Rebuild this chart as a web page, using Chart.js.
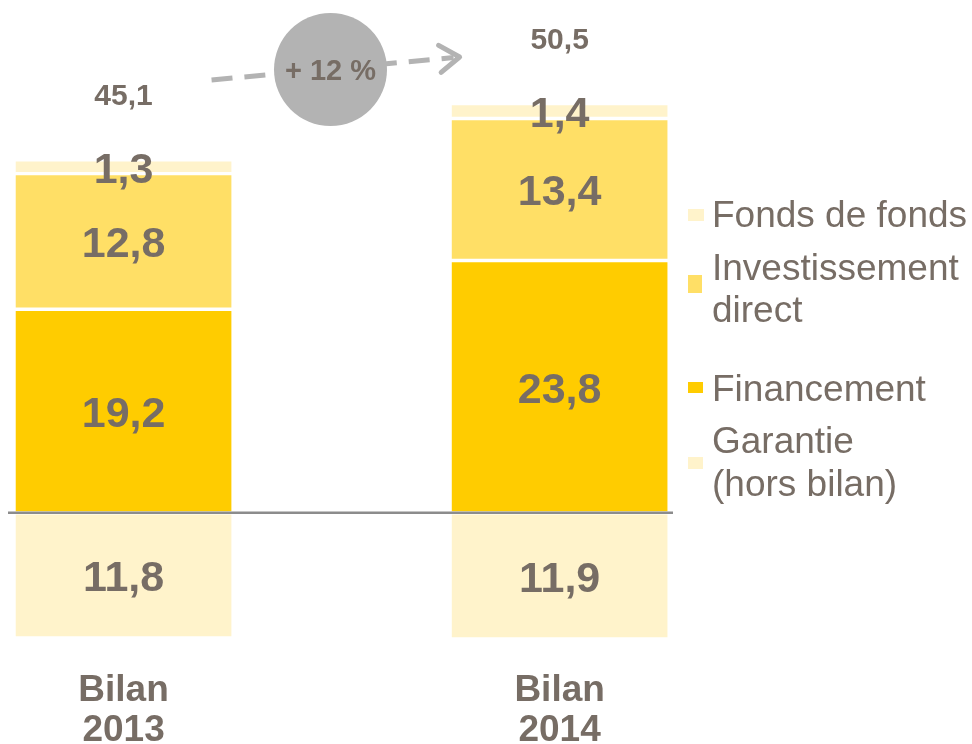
<!DOCTYPE html>
<html>
<head>
<meta charset="utf-8">
<script src="https://cdn.jsdelivr.net/npm/chart.js@4.4.1/dist/chart.umd.min.js"></script>
<style>
  html, body { margin: 0; padding: 0; background: #fff; }
</style>
</head>
<body>
<div id="grafico"><canvas id="miGrafico" width="972" height="744"></canvas></div>
<script>
// Données (Md€)
const categorias = ['Bilan 2013', 'Bilan 2014'];
const financement = [19.2, 23.8];
const investissementDirect = [12.8, 13.4];
const fondsDeFonds = [1.3, 1.4];
const garantie = [11.8, 11.9]; // hors bilan -> dessiné sous l'axe

const TEXTE = '#776D65';
const POLICE = '"Liberation Sans", Arial, sans-serif';

const fmt = v => v.toFixed(1).replace('.', ',');
const totaux = categorias.map((c, i) => financement[i] + investissementDirect[i] + fondsDeFonds[i] + garantie[i]);

const serie = (label, valores, color, signe) => ({
  label: label,
  data: valores.map((v, i) => ({ x: i, y: signe * v })),
  backgroundColor: color,
  borderColor: '#ffffff',
  borderWidth: 2,
  borderSkipped: false,
  barThickness: 219
});

// légende dessinée à droite (ordre de la référence)
const leyenda = [
  { lignes: ['Fonds de fonds'], color: '#FFF3CB', base: [227], cle: [209, 16, 12] },
  { lignes: ['Investissement', 'direct'], color: '#FFDF66', base: [280, 322], cle: [275, 14, 18] },
  { lignes: ['Financement'], color: '#FFCC00', base: [401], cle: [382, 15, 11] },
  { lignes: ['Garantie', '(hors bilan)'], color: '#FFF3CB', base: [453, 496], cle: [457, 15, 12] }
];

const etiquettes = {
  id: 'etiquettes',
  afterDatasetsDraw(chart) {
    const { ctx, chartArea, scales: { y } } = chart;
    ctx.save();
    // ligne du zéro
    const y0 = y.getPixelForValue(0);
    ctx.strokeStyle = '#8C8C8C';
    ctx.lineWidth = 2.5;
    ctx.beginPath();
    ctx.moveTo(chartArea.left, y0);
    ctx.lineTo(chartArea.right, y0);
    ctx.stroke();

    // valeurs dans les segments
    ctx.fillStyle = TEXTE;
    ctx.textAlign = 'center';
    ctx.textBaseline = 'middle';
    ctx.font = 'bold 43px ' + POLICE;
    chart.data.datasets.forEach((ds, i) => {
      chart.getDatasetMeta(i).data.forEach((bar, j) => {
        ctx.fillText(fmt(Math.abs(ds.data[j].y)), bar.x, (bar.y + bar.base) / 2 + 4);
      });
    });

    // totaux au-dessus des barres
    ctx.font = 'bold 30px ' + POLICE;
    const haut = categorias.map((c, j) => Math.min(...chart.data.datasets.map((ds, i) => chart.getDatasetMeta(i).data[j].y)));
    const xs = chart.getDatasetMeta(0).data.map(b => b.x);
    totaux.forEach((t, j) => ctx.fillText(fmt(t), xs[j], haut[j] - 63));

    // flèche de croissance
    const x1 = xs[0] + 88, y1 = 80, x2 = xs[1] - 100, y2 = 57;
    ctx.strokeStyle = '#B3B3B3';
    ctx.lineWidth = 5;
    ctx.setLineDash([21, 12]);
    ctx.beginPath();
    ctx.moveTo(x1, y1);
    ctx.lineTo(x2 - 6, y2 + 0.6);
    ctx.stroke();
    ctx.setLineDash([]);
    ctx.lineCap = 'round';
    ctx.lineJoin = 'round';
    const ang = Math.atan2(y2 - y1, x2 - x1);
    ctx.beginPath();
    ctx.moveTo(x2 - 24 * Math.cos(ang - 0.6), y2 - 24 * Math.sin(ang - 0.6));
    ctx.lineTo(x2, y2);
    ctx.lineTo(x2 - 24 * Math.cos(ang + 0.6), y2 - 24 * Math.sin(ang + 0.6));
    ctx.stroke();

    const cx = 330.5, cy = 69.5;
    ctx.fillStyle = '#B3B3B3';
    ctx.beginPath();
    ctx.arc(cx, cy, 56.5, 0, Math.PI * 2);
    ctx.fill();
    const croissance = Math.round((totaux[1] / totaux[0] - 1) * 100);
    ctx.fillStyle = TEXTE;
    ctx.font = 'bold 29px ' + POLICE;
    ctx.fillText('+ ' + croissance + ' %', cx, cy + 2);
    ctx.restore();
  },
  afterDraw(chart) {
    const ctx = chart.ctx;
    ctx.save();
    ctx.font = '37px ' + POLICE;
    ctx.textAlign = 'left';
    ctx.textBaseline = 'alphabetic';
    leyenda.forEach(item => {
      ctx.fillStyle = item.color;
      ctx.fillRect(688, item.cle[0], item.cle[1], item.cle[2]);
      ctx.fillStyle = TEXTE;
      item.lignes.forEach((l, k) => ctx.fillText(l, 712, item.base[k]));
    });
    ctx.restore();
  }
};

const ctx = document.getElementById('miGrafico').getContext('2d');
new Chart(ctx, {
  type: 'bar',
  data: {
    datasets: [
      serie('Financement', financement, '#FFCC00', 1),
      serie('Investissement direct', investissementDirect, '#FFDF66', 1),
      serie('Fonds de fonds', fondsDeFonds, '#FFF3CB', 1),
      serie('Garantie (hors bilan)', garantie, '#FFF3CB', -1)
    ]
  },
  options: {
    responsive: false,
    animation: false,
    layout: { padding: { left: 8, right: 299, top: 4, bottom: 0 } },
    plugins: { legend: { display: false }, tooltip: { enabled: false } },
    scales: {
      x: {
        type: 'linear',
        stacked: true,
        offset: false,
        bounds: 'data',
        min: -0.265,
        max: 1.26,
        grid: { display: false, drawTicks: false },
        border: { display: false },
        afterBuildTicks: scale => { scale.ticks = categorias.map((c, i) => ({ value: i })); },
        afterFit: scale => { scale.height = 104; },
        ticks: {
          padding: 31,
          color: TEXTE,
          maxRotation: 0,
          font: { family: POLICE, size: 37, weight: 'bold', lineHeight: 1.08 },
          callback: v => categorias[v] ? categorias[v].split(' ') : ''
        }
      },
      y: {
        display: false,
        stacked: true,
        min: -12,
        max: 48
      }
    }
  },
  plugins: [etiquettes]
});
</script>
</body>
</html>
